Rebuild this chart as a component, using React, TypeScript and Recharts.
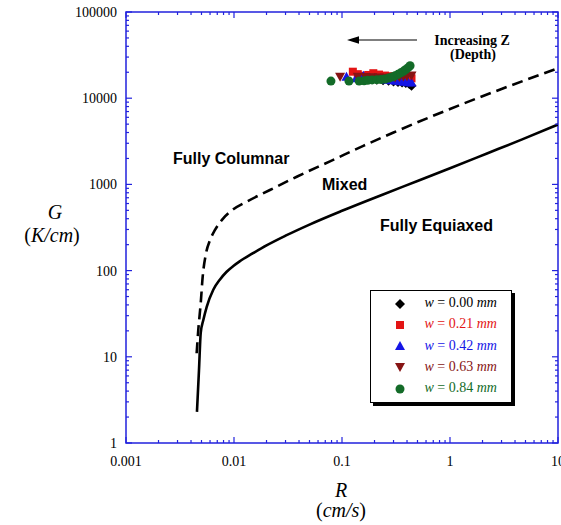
import React from "react";
import { ComposedChart, Line, Scatter, XAxis, YAxis, ReferenceArea, Legend } from "recharts";

const AXIS_BLUE = "#2222dd";
const PLOT_TOP = 12;
const PLOT_BOTTOM = 443;
const PLOT_LEFT = 126;
const PLOT_RIGHT = 558;
const SERIF = "'Liberation Serif', 'Times New Roman', serif";
const SANS = "'Liberation Sans', Arial, sans-serif";

// axis decades
const xMajor = [0.001, 0.01, 0.1, 1, 10];
const yMajor = [1, 10, 100, 1000, 10000, 100000];
const minorSteps = [2, 3, 4, 5, 6, 7, 8, 9];

// boundary Fully Columnar / Mixed (dashed)
const columnarEdge = [
  { r: 0.00451, g: 11 },
  { r: 0.00467, g: 20.5 },
  { r: 0.00492, g: 42 },
  { r: 0.00513, g: 85 },
  { r: 0.00551, g: 159 },
  { r: 0.006, g: 226 },
  { r: 0.00667, g: 296 },
  { r: 0.00796, g: 404 },
  { r: 0.00986, g: 514 },
  { r: 0.0131, g: 630 },
  { r: 0.0215, g: 861 },
  { r: 0.0381, g: 1228 },
  { r: 0.0774, g: 1850 },
  { r: 0.1575, g: 2800 },
  { r: 0.3, g: 4000 },
  { r: 1, g: 7500 },
  { r: 3, g: 12800 },
  { r: 10, g: 22200 },
];

// boundary Mixed / Fully Equiaxed (solid)
const equiaxedEdge = [
  { r: 0.00454, g: 2.3 },
  { r: 0.00474, g: 7 },
  { r: 0.00492, g: 19 },
  { r: 0.0052, g: 26.7 },
  { r: 0.00559, g: 38 },
  { r: 0.00643, g: 60 },
  { r: 0.00742, g: 79 },
  { r: 0.00855, g: 97 },
  { r: 0.00986, g: 113 },
  { r: 0.0112, g: 127 },
  { r: 0.015, g: 159 },
  { r: 0.02, g: 196 },
  { r: 0.03, g: 254 },
  { r: 0.05, g: 342 },
  { r: 0.1, g: 494 },
  { r: 0.24, g: 765 },
  { r: 0.5, g: 1096 },
  { r: 1, g: 1541 },
  { r: 2.2, g: 2285 },
  { r: 4.6, g: 3305 },
  { r: 10, g: 4950 },
];

// measured points for each w
const w000 = [
  { r: 0.15, g: 17000 }, { r: 0.18, g: 16800 }, { r: 0.21, g: 16400 }, { r: 0.24, g: 16100 },
  { r: 0.27, g: 15900 }, { r: 0.3, g: 15600 }, { r: 0.33, g: 15400 }, { r: 0.36, g: 15200 },
  { r: 0.39, g: 15000 }, { r: 0.42, g: 14600 }, { r: 0.44, g: 13900 },
];
const w021 = [
  { r: 0.126, g: 20300 }, { r: 0.14, g: 19000 }, { r: 0.155, g: 18200 }, { r: 0.175, g: 18600 },
  { r: 0.195, g: 19500 }, { r: 0.22, g: 18800 }, { r: 0.25, g: 18300 }, { r: 0.28, g: 18000 },
  { r: 0.31, g: 17800 }, { r: 0.34, g: 17600 }, { r: 0.37, g: 17400 }, { r: 0.4, g: 17200 },
  { r: 0.44, g: 17000 },
];
const w042 = [
  { r: 0.11, g: 17700 }, { r: 0.135, g: 17000 }, { r: 0.158, g: 18200 }, { r: 0.18, g: 17400 },
  { r: 0.2, g: 17000 }, { r: 0.23, g: 16700 }, { r: 0.26, g: 16400 }, { r: 0.29, g: 16100 },
  { r: 0.32, g: 15900 }, { r: 0.35, g: 15700 }, { r: 0.38, g: 15500 }, { r: 0.41, g: 15300 },
  { r: 0.44, g: 15200 },
];
const w063 = [
  { r: 0.096, g: 17700 }, { r: 0.14, g: 17700 }, { r: 0.165, g: 17600 }, { r: 0.19, g: 17500 },
  { r: 0.22, g: 17400 }, { r: 0.25, g: 17300 }, { r: 0.28, g: 17300 }, { r: 0.31, g: 17400 },
  { r: 0.34, g: 17600 }, { r: 0.37, g: 17800 }, { r: 0.4, g: 18000 }, { r: 0.44, g: 18300 },
];
const w084 = [
  { r: 0.079, g: 15800 }, { r: 0.116, g: 15800 }, { r: 0.144, g: 15800 }, { r: 0.16, g: 15900 },
  { r: 0.173, g: 16100 }, { r: 0.19, g: 16300 }, { r: 0.21, g: 16400 }, { r: 0.23, g: 16500 },
  { r: 0.25, g: 16700 }, { r: 0.27, g: 17100 }, { r: 0.29, g: 17600 }, { r: 0.31, g: 18200 },
  { r: 0.33, g: 18900 }, { r: 0.35, g: 19700 }, { r: 0.37, g: 20500 }, { r: 0.39, g: 21500 },
  { r: 0.41, g: 22600 }, { r: 0.427, g: 23800 },
];

const xTicks = xMajor.flatMap((d, i) => (i < xMajor.length - 1 ? [d, ...minorSteps.map((s) => d * s)] : [d]));
const yTicks = yMajor.flatMap((d, i) => (i < yMajor.length - 1 ? [d, ...minorSteps.map((s) => d * s)] : [d]));

const isMajor = (v: number) => Math.abs(Math.log10(v) - Math.round(Math.log10(v))) < 1e-6;

const drawMarker = (kind: string, cx: number, cy: number, fill: string) => {
  switch (kind) {
    case "diamond":
      return <polygon points={`${cx},${cy - 5} ${cx + 5},${cy} ${cx},${cy + 5} ${cx - 5},${cy}`} fill={fill} />;
    case "square":
      return <rect x={cx - 4} y={cy - 4} width={8} height={8} fill={fill} />;
    case "up":
      return <polygon points={`${cx},${cy - 5} ${cx + 5},${cy + 4} ${cx - 5},${cy + 4}`} fill={fill} />;
    case "down":
      return <polygon points={`${cx - 5},${cy - 4} ${cx + 5},${cy - 4} ${cx},${cy + 5}`} fill={fill} />;
    default:
      return <circle cx={cx} cy={cy} r={4.5} fill={fill} />;
  }
};

const series = [
  { name: "0.00", color: "#000000", kind: "diamond", data: w000 },
  { name: "0.21", color: "#e31414", kind: "square", data: w021 },
  { name: "0.42", color: "#1515e6", kind: "up", data: w042 },
  { name: "0.63", color: "#861414", kind: "down", data: w063 },
  { name: "0.84", color: "#136b28", kind: "circle", data: w084 },
];

const XTick = (props: any) => {
  const { x, payload } = props;
  const v = payload.value;
  const major = isMajor(v);
  const len = major ? 6 : 3;
  return (
    <g>
      <line x1={x} x2={x} y1={PLOT_BOTTOM} y2={PLOT_BOTTOM - len} stroke={AXIS_BLUE} strokeWidth={1.2} />
      <line x1={x} x2={x} y1={PLOT_TOP} y2={PLOT_TOP + len} stroke={AXIS_BLUE} strokeWidth={1.2} />
      {major && (
        <text x={x} y={PLOT_BOTTOM + 23} textAnchor="middle" fontFamily={SERIF} fontSize={14} fill="#000">
          {String(v)}
        </text>
      )}
    </g>
  );
};

const YTick = (props: any) => {
  const { y, payload } = props;
  const v = payload.value;
  const major = isMajor(v);
  const len = major ? 6 : 3;
  return (
    <g>
      <line x1={PLOT_LEFT} x2={PLOT_LEFT + len} y1={y} y2={y} stroke={AXIS_BLUE} strokeWidth={1.2} />
      <line x1={PLOT_RIGHT} x2={PLOT_RIGHT - len} y1={y} y2={y} stroke={AXIS_BLUE} strokeWidth={1.2} />
      {major && (
        <text x={PLOT_LEFT - 9} y={y + 5} textAnchor="end" fontFamily={SERIF} fontSize={14} fill="#000">
          {String(v)}
        </text>
      )}
    </g>
  );
};

const LegendBox = (props: any) => {
  const payload = (props.payload || []).filter((p: any) => series.some((s) => s.name === p.value));
  return (
    <div
      style={{
        width: 142,
        height: 113,
        boxSizing: "border-box",
        border: "1.5px solid #000",
        boxShadow: "3px 3px 0 #000",
        background: "#fff",
        paddingTop: 2,
      }}
    >
      {payload.map((entry: any) => {
        const s = series.find((q) => q.name === entry.value)!;
        return (
          <div key={s.name} style={{ position: "relative", height: 21.3 }}>
            <svg width={14} height={14} style={{ position: "absolute", left: 21.5, top: 3.6 }}>
              {drawMarker(s.kind, 7, 7, s.color)}
            </svg>
            <span
              style={{
                position: "absolute",
                left: 53.5,
                top: 2,
                fontFamily: SERIF,
                fontSize: 14,
                color: s.color,
                whiteSpace: "nowrap",
              }}
            >
              <i>w</i> = {s.name} <i>mm</i>
            </span>
          </div>
        );
      })}
    </div>
  );
};

export default function App() {
  return (
    <div style={{ position: "absolute", left: 0, top: 0, width: 561, height: 525, background: "#fff" }}>
      <ComposedChart width={561} height={525} margin={{ top: PLOT_TOP, right: 561 - PLOT_RIGHT, bottom: 0, left: 0 }}>
        <XAxis
          dataKey="r"
          type="number"
          scale="log"
          domain={[0.001, 10]}
          allowDataOverflow
          ticks={xTicks}
          interval={0}
          height={525 - PLOT_BOTTOM}
          tickSize={0}
          tickMargin={0}
          axisLine={false}
          tickLine={false}
          tick={<XTick />}
        />
        <YAxis
          dataKey="g"
          type="number"
          scale="log"
          domain={[1, 100000]}
          allowDataOverflow
          ticks={yTicks}
          interval={0}
          width={PLOT_LEFT}
          tickSize={0}
          tickMargin={0}
          axisLine={false}
          tickLine={false}
          tick={<YTick />}
        />
        <ReferenceArea x1={0.001} x2={10} y1={1} y2={100000} fill="none" stroke={AXIS_BLUE} strokeWidth={1.5} fillOpacity={0} />
        <Line
          data={columnarEdge}
          dataKey="g"
          type="monotone"
          stroke="#000"
          strokeWidth={2.6}
          strokeDasharray="11 6"
          dot={false}
          legendType="none"
          isAnimationActive={false}
        />
        <Line
          data={equiaxedEdge}
          dataKey="g"
          type="monotone"
          stroke="#000"
          strokeWidth={2.6}
          dot={false}
          legendType="none"
          isAnimationActive={false}
        />
        {series.map((s) => (
          <Scatter
            key={s.name}
            name={s.name}
            data={s.data}
            dataKey="g"
            fill={s.color}
            isAnimationActive={false}
            shape={(p: any) => drawMarker(s.kind, p.cx, p.cy, s.color)}
          />
        ))}
        <Legend
          layout="vertical"
          align="center"
          verticalAlign="middle"
          content={<LegendBox />}
          wrapperStyle={{ left: 370, top: 290, width: 145, height: 116 }}
        />
      </ComposedChart>
      <svg
        width={561}
        height={525}
        style={{ position: "absolute", left: 0, top: 0, pointerEvents: "none" }}
      >
        <g fontFamily={SANS} fontWeight="bold" fontSize={16} fill="#000">
          <text x={173} y={164}>Fully Columnar</text>
          <text x={322} y={190}>Mixed</text>
          <text x={380} y={231}>Fully Equiaxed</text>
        </g>
        <g fontFamily={SERIF} fontWeight="bold" fontSize={14} fill="#000" textAnchor="middle">
          <text x={472} y={45}>Increasing Z</text>
          <text x={473} y={59}>(Depth)</text>
        </g>
        <line x1={356} x2={417} y1={40} y2={40} stroke="#000" strokeWidth={1.2} />
        <polygon points="347,40 359,36.3 359,43.7" fill="#000" />
        <g fontFamily={SERIF} fontSize={20} fill="#000" textAnchor="middle">
          <text x={341} y={497} fontStyle="italic">R</text>
          <text x={341} y={517}>
            (<tspan fontStyle="italic">cm/s</tspan>)
          </text>
          <text x={55} y={219} fontStyle="italic">G</text>
          <text x={52} y={242}>
            (<tspan fontStyle="italic">K/cm</tspan>)
          </text>
        </g>
      </svg>
    </div>
  );
}
